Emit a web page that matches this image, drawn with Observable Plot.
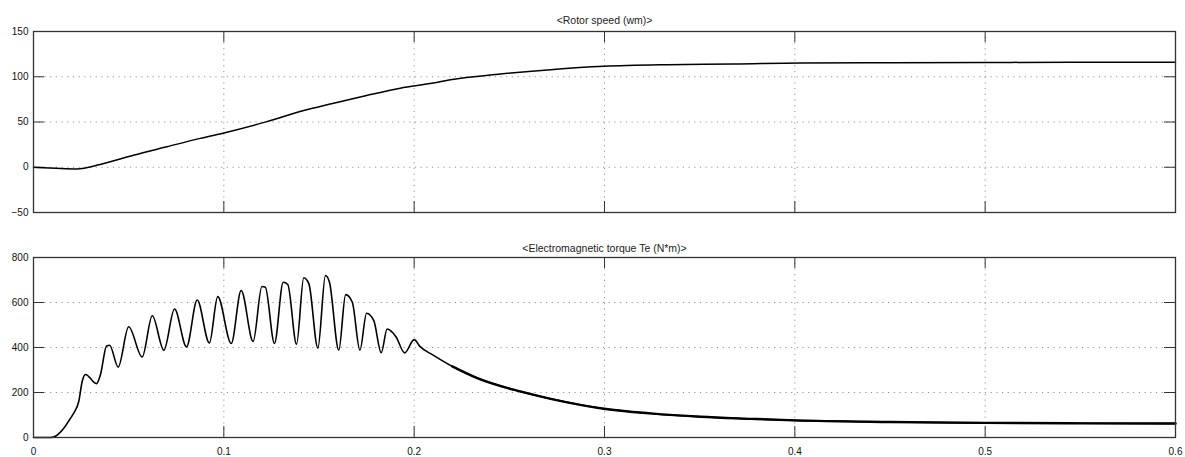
<!DOCTYPE html>
<html>
<head>
<meta charset="utf-8">
<script src="https://cdn.jsdelivr.net/npm/d3@7"></script>
<script src="https://cdn.jsdelivr.net/npm/@observablehq/plot@0.6"></script>
<style>
  html, body { margin: 0; padding: 0; background: white; }
  #chart svg { display: block; }
</style>
</head>
<body>
<div id="chart"></div>
<script>
// ---- data ----
const xTicks = [0, 0.1, 0.2, 0.3, 0.4, 0.5, 0.6];

const speedTitle = "<Rotor speed (wm)>";
const speedTicks = [-50, 0, 50, 100, 150];
const speedT = [0, 0.012, 0.0228, 0.035, 0.0525, 0.070, 0.0876, 0.099, 0.1226, 0.140, 0.1577, 0.175, 0.1927, 0.210, 0.219, 0.2454, 0.2717, 0.2997, 0.333, 0.368, 0.403, 0.45, 0.5, 0.55, 0.6];
const speedV = [0, -1.2, -1.9, 3, 13.3, 22.6, 31.9, 37.4, 50.4, 61.5, 70.7, 79.3, 87.4, 93, 96.7, 103, 107.8, 111.5, 113.3, 114, 115.2, 115.5, 115.8, 116, 116];

const torqueTitle = "<Electromagnetic torque Te (N*m)>";
const torqueTicks = [0, 200, 400, 600, 800];
const torqueT = [0, 0.009, 0.012, 0.016, 0.019, 0.0212, 0.0238, 0.0256, 0.0273, 0.0331, 0.0352, 0.0384, 0.0400, 0.0445, 0.050, 0.0571, 0.0624, 0.0685, 0.0741, 0.0804, 0.086, 0.0924, 0.0968, 0.1039, 0.1091, 0.1154, 0.1200, 0.1218, 0.1266, 0.1312, 0.1336, 0.1382, 0.142, 0.1447, 0.1494, 0.1534, 0.1555, 0.1604, 0.164, 0.1675, 0.1715, 0.175, 0.1788, 0.1827, 0.1858, 0.1905, 0.1950, 0.2000, 0.2030, 0.2100, 0.2200, 0.2331, 0.2541, 0.2717, 0.2997, 0.3242, 0.3505, 0.3768, 0.40, 0.45, 0.50, 0.55, 0.60];
const torqueV = [0, 0, 8, 42, 80, 109, 161, 250, 280, 239, 280, 407, 410, 313, 492, 358, 541, 388, 571, 403, 611, 420, 626, 418, 653, 427, 671, 668, 418, 690, 680, 415, 710, 683, 397, 720, 690, 388, 635, 601, 388, 552, 519, 377, 482, 447, 376, 435, 405, 366, 316, 264, 208, 172, 128, 107, 92, 83, 76, 69, 65, 63, 62];

const speed = speedT.map((t, i) => ({t, v: speedV[i]}));
const torque = torqueT.map((t, i) => ({t, v: torqueV[i]}));

// ---- drawing ----
const W = 1185, ML = 33, MR = 10;
const font = "'Liberation Sans', Arial, sans-serif";

function panel({data, yDomain, yTicks, title, height, marginTop, marginBottom, showX, lineWidth, tail}) {
  const plotW = W - ML - MR;
  const plotH = height - marginTop - marginBottom;
  const tk = 11;
  return Plot.plot({
    width: W, height, marginTop, marginBottom, marginLeft: ML, marginRight: MR,
    style: {fontFamily: font, fontSize: "10px", color: "#111", background: "white"},
    x: {domain: [0, 0.6], axis: showX ? undefined : null, label: null},
    y: {domain: yDomain, label: null},
    marks: [
      Plot.gridX(xTicks, {stroke: "#666", strokeOpacity: 0.7, strokeDasharray: "1.2,4.5"}),
      Plot.gridY(yTicks, {stroke: "#666", strokeOpacity: 0.7, strokeDasharray: "1.2,4.5"}),
      Plot.tickX(xTicks, {x: d => d, insetTop: plotH - tk, stroke: "#333"}),
      Plot.tickX(xTicks, {x: d => d, insetBottom: plotH - tk, stroke: "#333"}),
      Plot.tickY(yTicks, {y: d => d, insetRight: plotW - tk, stroke: "#333"}),
      Plot.tickY(yTicks, {y: d => d, insetLeft: plotW - tk, stroke: "#333"}),
      Plot.axisY(yTicks, {tickSize: 0, tickPadding: 5, fontSize: 10, fill: "#111", label: null}),
      showX ? Plot.axisX(xTicks, {tickSize: 0, tickPadding: 10, fontSize: 10, fill: "#111", label: null, tickFormat: d => String(d)}) : null,
      Plot.lineY(data, {x: "t", y: "v", curve: "monotone-x", stroke: "#000", strokeWidth: lineWidth}),
      tail ? Plot.lineY(data.filter(d => d.t >= tail), {x: "t", y: "v", curve: "monotone-x", stroke: "#000", strokeWidth: 2.4}) : null,
      Plot.frame({stroke: "#333", strokeWidth: 1.3}),
      Plot.text([title], {text: d => d, frameAnchor: "top", dy: -(marginTop - 16), fontSize: 10.5, fill: "#222"})
    ]
  });
}

const chart = document.getElementById("chart");
chart.append(panel({
  data: speed, yDomain: [-50, 150], yTicks: speedTicks, title: speedTitle,
  height: 228, marginTop: 31, marginBottom: 16, showX: false, lineWidth: 1.5
}));
chart.append(panel({
  data: torque, yDomain: [0, 800], yTicks: torqueTicks, title: torqueTitle,
  height: 229, marginTop: 29, marginBottom: 20, showX: true, lineWidth: 1.6, tail: 0.22
}));
</script>
</body>
</html>
